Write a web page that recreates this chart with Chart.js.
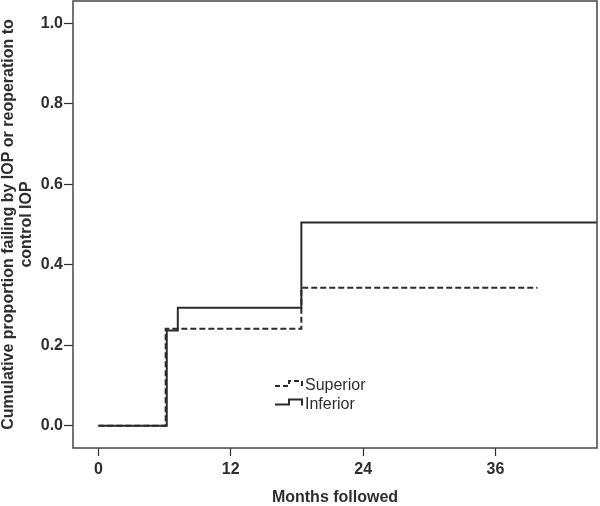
<!DOCTYPE html>
<html>
<head>
<meta charset="utf-8">
<script src="https://cdn.jsdelivr.net/npm/chart.js@4"></script>
<style>
  html, body { margin: 0; padding: 0; background: #fff; }
  #wrap { width: 600px; height: 506px; }
</style>
</head>
<body>
<div id="wrap"><canvas id="km"></canvas></div>
<script>
// Kaplan-Meier style step data (months, cumulative proportion failing)
const inferiorMonths = [0, 6.2, 7.2, 18.4, 45.2];
const inferiorValues = [0, 0.237, 0.293, 0.505, 0.505];
const superiorMonths = [0, 6.1, 18.4, 39.8];
const superiorValues = [0, 0.241, 0.343, 0.343];
const xTicks = [0, 12, 24, 36];
const yTicks = [0, 0.2, 0.4, 0.6, 0.8, 1.0];
const seriesNames = ['Superior', 'Inferior'];

const ink = '#2b2b2b';
const textColor = '#2e2e2e';
const fontFamily = '"Liberation Sans", Arial, sans-serif';

function toPoints(xs, ys) {
    return xs.map((x, i) => ({ x: x, y: ys[i] }));
}

// box around the plot area
const frame = {
    id: 'frame',
    afterDatasetsDraw(chart) {
        const a = chart.chartArea;
        const ctx = chart.ctx;
        ctx.save();
        ctx.strokeStyle = '#444';
        ctx.lineWidth = 1.5;
        ctx.strokeRect(a.left, a.top, a.right - a.left, a.bottom - a.top);
        ctx.restore();
    }
};

// step-shaped legend glyphs like the SPSS output
const stepLegend = {
    id: 'stepLegend',
    afterDraw(chart) {
        const ctx = chart.ctx;
        const a = chart.chartArea;
        const x0 = a.left + 202;
        const rows = [a.top + 385, a.top + 403.5];
        ctx.save();
        ctx.strokeStyle = ink;
        ctx.lineWidth = 2;
        rows.forEach((y, i) => {
            ctx.setLineDash(i === 0 ? [5, 3] : []);
            ctx.beginPath();
            ctx.moveTo(x0, y);
            ctx.lineTo(x0 + 14, y);
            ctx.lineTo(x0 + 14, y - 5);
            ctx.lineTo(x0 + 27, y - 5);
            ctx.lineTo(x0 + 27, y + 1);
            ctx.stroke();
            ctx.setLineDash([]);
            ctx.fillStyle = textColor;
            ctx.font = '16px ' + fontFamily;
            ctx.textBaseline = 'middle';
            ctx.fillText(seriesNames[i], x0 + 30, y);
        });
        ctx.restore();
    }
};

new Chart(document.getElementById('km'), {
    type: 'line',
    data: {
        datasets: [{
            label: seriesNames[0],
            data: toPoints(superiorMonths, superiorValues),
            stepped: 'before',
            borderColor: ink,
            borderWidth: 2,
            borderDash: [6, 3],
            pointRadius: 0,
            fill: false
        }, {
            label: seriesNames[1],
            data: toPoints(inferiorMonths, inferiorValues),
            stepped: 'before',
            borderColor: ink,
            borderWidth: 2,
            pointRadius: 0,
            fill: false
        }]
    },
    options: {
        responsive: true,
        maintainAspectRatio: false,
        animation: false,
        layout: { padding: { top: 1, right: 3 } },
        plugins: {
            legend: { display: false },
            tooltip: { enabled: false }
        },
        scales: {
            x: {
                type: 'linear',
                min: -2.3,
                max: 45.2,
                afterBuildTicks: (s) => { s.ticks = xTicks.map(v => ({ value: v })); },
                afterFit: (s) => { s.height = 58; s.paddingLeft = 0; s.paddingRight = 0; },
                grid: { drawOnChartArea: false, tickLength: 8, color: textColor, tickWidth: 1.2 },
                border: { display: false },
                ticks: {
                    color: textColor,
                    padding: 4,
                    maxRotation: 0,
                    font: { family: fontFamily, size: 16, weight: 'bold' }
                },
                title: {
                    display: true,
                    text: 'Months followed',
                    color: textColor,
                    padding: { top: 4, bottom: 0 },
                    font: { family: fontFamily, size: 16, weight: 'bold', lineHeight: 1 }
                }
            },
            y: {
                min: -0.055,
                max: 1.055,
                afterBuildTicks: (s) => { s.ticks = yTicks.map(v => ({ value: v })); },
                afterFit: (s) => { s.width = 73; s.paddingTop = 0; s.paddingBottom = 0; },
                grid: { drawOnChartArea: false, tickLength: 9, color: textColor, tickWidth: 1.2 },
                border: { display: false },
                ticks: {
                    color: textColor,
                    padding: 1,
                    callback: (v) => v.toFixed(1),
                    font: { family: fontFamily, size: 16, weight: 'bold' }
                },
                title: {
                    display: true,
                    text: ['Cumulative proportion failing by IOP or reoperation to', 'control IOP'],
                    color: textColor,
                    padding: { top: 0, bottom: 0 },
                    font: { family: fontFamily, size: 16, weight: 'bold', lineHeight: 1.1 }
                }
            }
        }
    },
    plugins: [frame, stepLegend]
});
</script>
</body>
</html>
